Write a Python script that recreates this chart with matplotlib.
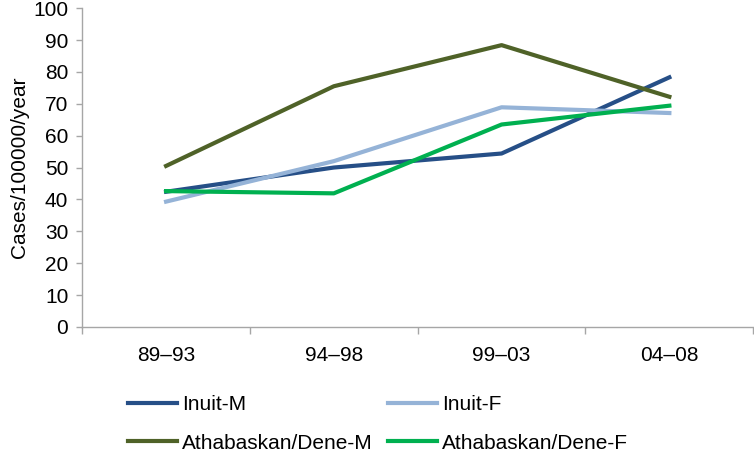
import matplotlib.pyplot as plt
import numpy as np

plt.rcParams['font.family'] = ['Liberation Sans', 'DejaVu Sans']

# 数据
periods = ["89–93", "94–98", "99–03", "04–08"]
inuit_m = [42.4, 50.0, 54.4, 78.3]
inuit_f = [39.3, 52.0, 68.9, 67.1]
athabaskan_m = [50.5, 75.5, 88.4, 72.2]
athabaskan_f = [42.6, 41.9, 63.5, 69.4]

fig = plt.figure(figsize=(7.54, 4.54), dpi=100)
ax = fig.add_axes([0.109, 0.280, 0.890, 0.702])

x = np.arange(len(periods))
lw = 3
l1, = ax.plot(x, inuit_m, color="#264f87", lw=lw, label="Inuit-M")
l2, = ax.plot(x, inuit_f, color="#95b3d7", lw=lw, label="Inuit-F")
l3, = ax.plot(x, athabaskan_m, color="#4f6228", lw=lw, label="Athabaskan/Dene-M")
l4, = ax.plot(x, athabaskan_f, color="#00b050", lw=lw, label="Athabaskan/Dene-F")

# 坐标轴
ax.set_xlim(-0.5, len(periods) - 0.5)
ax.set_ylim(0, 100)
ax.set_yticks(range(0, 101, 10))
ax.set_xticks(x)
ax.set_xticklabels(periods)
ax.set_xticks(np.arange(-0.5, len(periods), 1), minor=True)
ax.tick_params(axis='x', which='major', length=0, pad=14, labelsize=15)
ax.tick_params(axis='x', which='minor', length=5, color="#a6a6a6", width=1)
ax.tick_params(axis='y', length=4, color="#a6a6a6", width=1, labelsize=15, pad=6)
for s in ["top", "right"]:
    ax.spines[s].set_visible(False)
for s in ["left", "bottom"]:
    ax.spines[s].set_color("#a6a6a6")
    ax.spines[s].set_linewidth(1)
ax.set_ylabel("Cases/100000/year", fontsize=15)
ax.yaxis.set_label_coords(-0.079, 0.5)

# 图例（按行排列：Inuit 一行，Athabaskan 一行）
fig.legend([l1, l3, l2, l4], [l.get_label() for l in [l1, l3, l2, l4]],
           loc="upper left", bbox_to_anchor=(0.170, 0.130), ncol=2, frameon=False,
           fontsize=15, handlelength=2.35, handletextpad=0.25, columnspacing=0.72,
           labelspacing=0.95, borderpad=0, borderaxespad=0)

fig.savefig("out.png", dpi=100)
